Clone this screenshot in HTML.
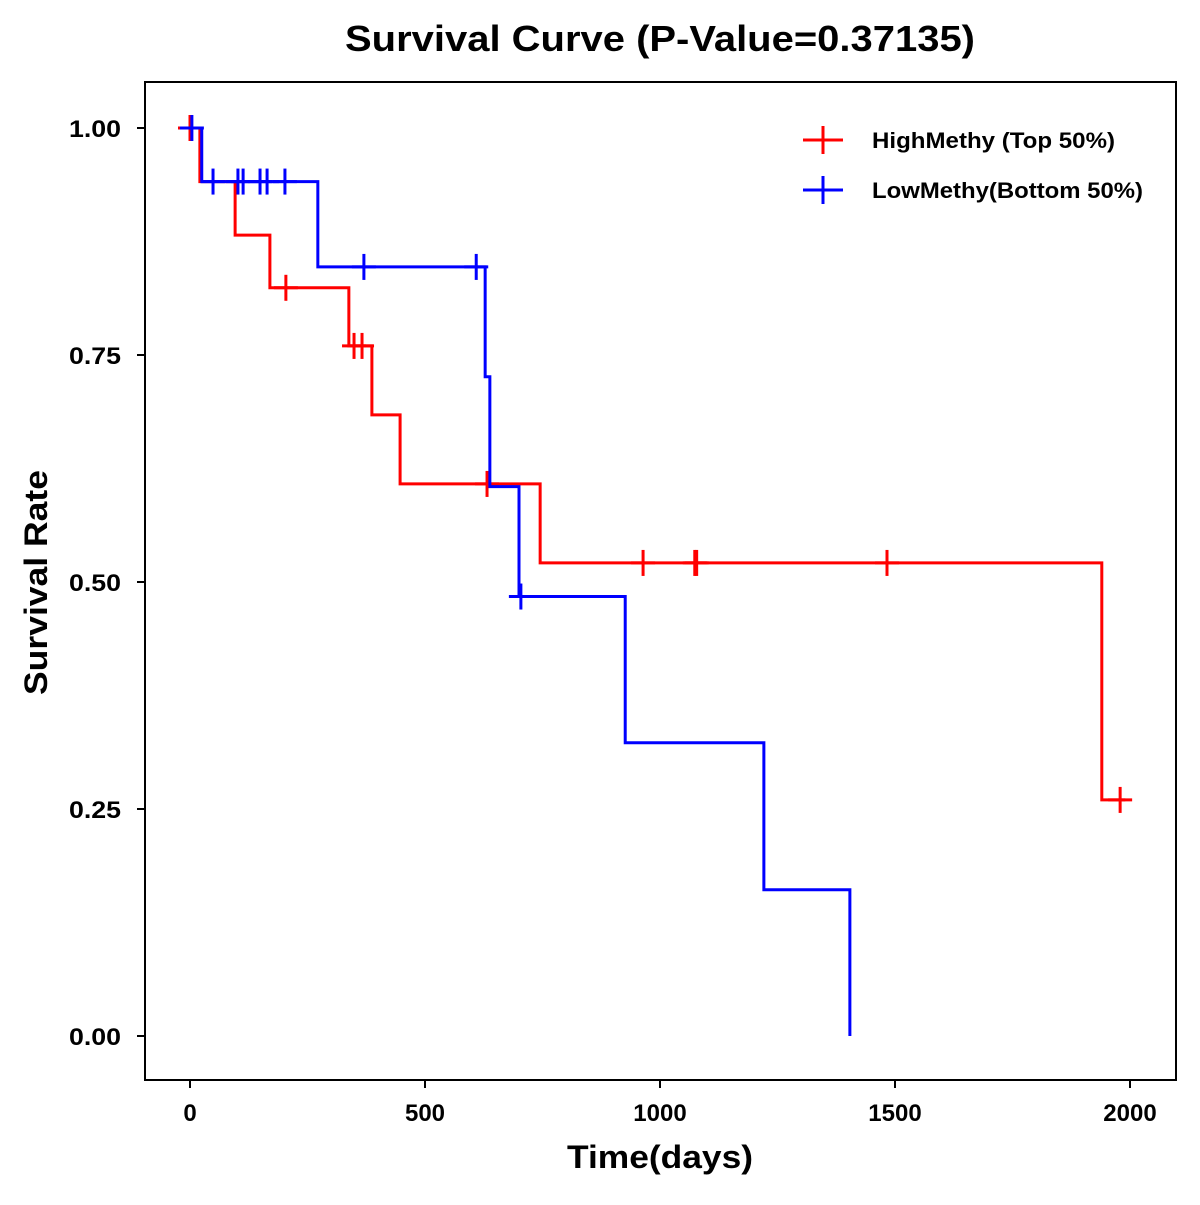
<!DOCTYPE html>
<html><head><meta charset="utf-8"><style>
body{margin:0;background:#fff;}
svg text{font-family:"Liberation Sans",Arial,sans-serif;font-weight:bold;}
</style></head><body>
<svg id="chart" width="1200" height="1200" xmlns="http://www.w3.org/2000/svg">
<rect width="1200" height="1200" fill="#fff"/>
<text x="345" y="51" font-size="36" textLength="630" lengthAdjust="spacingAndGlyphs">Survival Curve (P-Value=0.37135)</text>
<rect x="145" y="82" width="1031" height="998" fill="none" stroke="#000" stroke-width="2"/>
<g id="axes"></g>
<g id="series"></g>
<text x="567" y="1168" font-size="32" textLength="186" lengthAdjust="spacingAndGlyphs">Time(days)</text>
<text transform="translate(47,695) rotate(-90)" font-size="32" textLength="225" lengthAdjust="spacingAndGlyphs">Survival Rate</text>
<g>
<g>
<line x1="803" y1="140" x2="843" y2="140" stroke="#f00" stroke-width="3"/><line x1="823" y1="126" x2="823" y2="154" stroke="#f00" stroke-width="3"/>
<text x="872" y="148" font-size="22" textLength="243" lengthAdjust="spacingAndGlyphs">HighMethy (Top 50%)</text></g>
<g>
<line x1="803" y1="190" x2="843" y2="190" stroke="#00f" stroke-width="3"/><line x1="823" y1="176" x2="823" y2="204" stroke="#00f" stroke-width="3"/>
<text x="872" y="198" font-size="22" textLength="271" lengthAdjust="spacingAndGlyphs">LowMethy(Bottom 50%)</text></g>
</g>
</svg>
<script>
const xTicks=[0,500,1000,1500,2000];
const yTicks=[0,0.25,0.5,0.75,1.0];
const yTickLabels=["0.00","0.25","0.50","0.75","1.00"];
const highTimes=[0,21,96,170,338,387,447,745,1940];
const highSurv=[1.0,0.941,0.882,0.824,0.760,0.684,0.608,0.521,0.260];
const highEnd=1990;
const highCensor=[0,204,349,366,632,964,1074,1078,1483,1979];
const lowTimes=[0,25,272,628,638,700,926,1221,1404];
const lowSurv=[1.0,0.941,0.847,0.726,0.605,0.484,0.323,0.161,0.0];
const lowEnd=1404;
const lowCensor=[4,49,102,113,149,164,202,370,609,704];

const X=d=>190+d*0.47;
const Y=s=>1036-s*908;
const NS="http://www.w3.org/2000/svg";
function mk(tag,attrs,parent){const e=document.createElementNS(NS,tag);for(const k in attrs)e.setAttribute(k,attrs[k]);parent.appendChild(e);return e;}
const axes=document.getElementById('axes');
xTicks.forEach(t=>{
  const l=mk('line',{x1:X(t),x2:X(t),y1:1080,y2:1088,stroke:'#000','stroke-width':2},axes);
  
  
  const tx=mk('text',{x:X(t),y:1121,'text-anchor':'middle','font-size':24},axes);tx.textContent=t;
  
  
});
yTicks.forEach((t,i)=>{
  const l=mk('line',{x1:137,x2:145,y1:Y(t),y2:Y(t),stroke:'#000','stroke-width':2},axes);
  
  
  const tx=mk('text',{x:121,y:Y(t)+9,'text-anchor':'end','font-size':24,textLength:52,lengthAdjust:'spacingAndGlyphs'},axes);tx.textContent=yTickLabels[i];
  
  
});
const series=document.getElementById('series');
function survAt(times,surv,t){let s=surv[0];for(let i=0;i<times.length;i++){if(times[i]<=t)s=surv[i];}return s;}
function draw(times,surv,end,cens,color,name){
  let d=`M${X(times[0])},${Y(surv[0])}`;
  for(let i=1;i<times.length;i++){d+=` H${X(times[i])} V${Y(surv[i])}`;}
  d+=` H${X(end)}`;
  const p=mk('path',{d:d,fill:'none',stroke:color,'stroke-width':3},series);
  
  
  cens.forEach(c=>{
    const s=survAt(times,surv,c);const g=mk('g',{},series);
    
    
    mk('line',{x1:X(c)-12,x2:X(c)+12,y1:Y(s),y2:Y(s),stroke:color,'stroke-width':3},g);
    mk('line',{x1:X(c),x2:X(c),y1:Y(s)-13,y2:Y(s)+13,stroke:color,'stroke-width':3},g);
  });
}
draw(highTimes,highSurv,highEnd,highCensor,'#f00','high-methy');
draw(lowTimes,lowSurv,lowEnd,lowCensor,'#00f','low-methy');
</script>
</body></html>
